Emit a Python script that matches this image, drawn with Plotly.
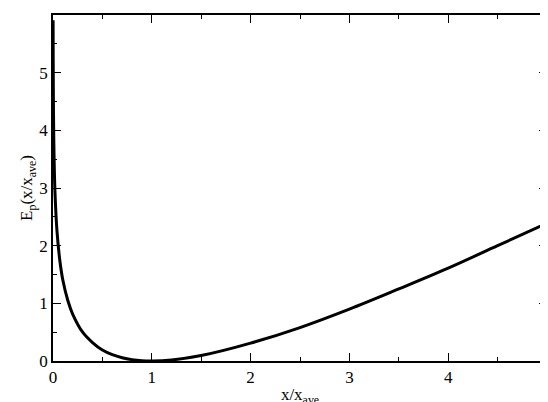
import plotly.graph_objects as go

# values
x_ratio = [0.001, 0.002, 0.005, 0.01, 0.02, 0.04, 0.07, 0.1, 0.15, 0.2, 0.3, 0.4, 0.5,
           0.6, 0.7, 0.8, 0.9, 1.0, 1.2, 1.5, 2.0, 2.5, 3.0, 3.5, 4.0, 4.5, 5.0]
energy = [5.91, 5.22, 4.30, 3.62, 2.93, 2.26, 1.73, 1.40, 1.05, 0.81, 0.50, 0.32, 0.19,
          0.11, 0.057, 0.023, 0.005, 0.0, 0.018, 0.095, 0.31, 0.58, 0.90, 1.25, 1.61, 2.00, 2.39]
x_ticks = [0, 1, 2, 3, 4, 5]
y_ticks = [0, 1, 2, 3, 4, 5, 6]

serif = 'Liberation Serif, Times New Roman, serif'

fig = go.Figure()
fig.add_trace(go.Scatter(x=x_ratio, y=energy, mode='lines', line=dict(color='black', width=3, shape='spline')))

axis_style = dict(showgrid=False, zeroline=False, showline=True, linecolor='black', linewidth=1.5,
                  mirror='ticks', ticks='inside', ticklen=8, tickcolor='black',
                  minor=dict(ticks='inside', ticklen=4, tickcolor='black', dtick=0.5),
                  tickfont=dict(size=17, color='black', family=serif))

fig.update_xaxes(range=[0, 5], tickvals=x_ticks, title=dict(text='x/x<sub>ave</sub>', standoff=2,
                 font=dict(size=17, color='black', family=serif)), **axis_style)
fig.update_yaxes(range=[0, 6], tickvals=y_ticks, title=dict(text='E<sub>p</sub>(x/x<sub>ave</sub>)', standoff=2,
                 font=dict(size=17, color='black', family=serif)), **axis_style)

fig.update_layout(width=548, height=402, margin=dict(l=45, r=5, t=5, b=49),
                  plot_bgcolor='white', paper_bgcolor='white', showlegend=False,
                  font=dict(family=serif))
fig.write_html("out.html")
